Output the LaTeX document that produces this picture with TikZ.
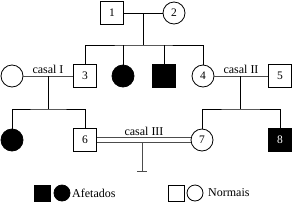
\documentclass[tikz,border=0pt]{standalone}
\usepackage{fontspec}
\setmainfont{Liberation Serif}
\begin{document}
\begin{tikzpicture}[x=1pt,y=-1pt,
  every node/.style={font=\fontsize{11.5}{13}\selectfont},
  sq/.style={draw, rectangle, minimum size=22.5pt, inner sep=0pt, line width=0.8pt},
  ci/.style={draw, circle, minimum size=22pt, inner sep=0pt, line width=0.8pt},
  aff/.style={fill=black, text=white},
  lsq/.style={draw, rectangle, minimum size=16pt, inner sep=0pt, line width=0.8pt},
  lci/.style={draw, circle, minimum size=16pt, inner sep=0pt, line width=0.8pt},
  kin/.style={line width=0.8pt, black},
  mar/.style={line width=0.9pt, black!70},
  lab/.style={inner sep=1pt, font=\fontsize{12}{14}\selectfont}
]
\useasboundingbox (0,0) rectangle (292,202);
% generation I
\node[sq] (n1) at (112,13) {1};
\node[ci] (n2) at (174,13) {2};
% generation II
\node[ci] (c1) at (12,76) {};
\node[sq] (n3) at (85,76) {3};
\node[ci,aff] (a1) at (123,76) {};
\node[sq,aff] (a2) at (164,76) {};
\node[ci] (n4) at (203,76) {4};
\node[sq] (n5) at (280,76) {5};
% generation III
\node[ci,aff] (b1) at (12,140) {};
\node[sq] (n6) at (85,140) {6};
\node[ci] (n7) at (202,140) {7};
\node[sq,aff] (n8) at (280,140) {8};
% couple 1-2
\coordinate (m12) at (143,13);
\coordinate (s12) at (143,45);
\draw[kin] (n1) -- (n2);
\draw[kin] (m12) -- (s12);
\draw[kin] (n3.north) |- (s12) -| (n4.north);
\draw[kin] (a1.north) -- (a1.north |- s12);
\draw[kin] (a2.north) -- (a2.north |- s12);
% casal I
\coordinate (mI) at (48,76);
\coordinate (sI) at (48,109);
\draw[mar] (c1) -- (n3);
\node[lab, anchor=south] (lI) at (48,75) {casal I};
\draw[kin] (mI) -- (sI);
\draw[kin] (b1.north) |- (sI) -| (n6.north);
% casal II
\coordinate (mII) at (240,76);
\coordinate (sII) at (240,109);
\draw[mar] (n4) -- (n5);
\node[lab, anchor=south] (lII) at (241,75) {casal II};
\draw[kin] (mII) -- (sII);
\draw[kin] (n7.north) |- (sII) -| (n8.north);
% casal III (double line)
\draw[mar] ([yshift=2.2pt]n6.east) -- ([yshift=2.2pt]n7.west);
\draw[mar] ([yshift=-2.6pt]n6.east) -- ([yshift=-2.6pt]n7.west);
\node[lab, anchor=south] (lIII) at (144,137) {casal III};
\coordinate (mIII) at (142,143);
\coordinate (eIII) at (142,171);
\coordinate (tL) at (137,171);
\coordinate (tR) at (147,171);
\draw[mar] (mIII) -- (eIII);
\draw[mar] (tL) -- (tR);
% legend
\node[lsq, fill=black] (ls1) at (42,193) {};
\node[lci, fill=black] (lc1) at (62,193) {};
\node[anchor=west, inner sep=0pt, font=\fontsize{12}{14}\selectfont] (t1) at (72,193) {Afetados};
\node[lsq] (ls2) at (176,193) {};
\node[lci] (lc2) at (195,193) {};
\node[anchor=west, inner sep=0pt, font=\fontsize{12}{14}\selectfont] (t2) at (208,193) {Normais};
\end{tikzpicture}
\end{document}
